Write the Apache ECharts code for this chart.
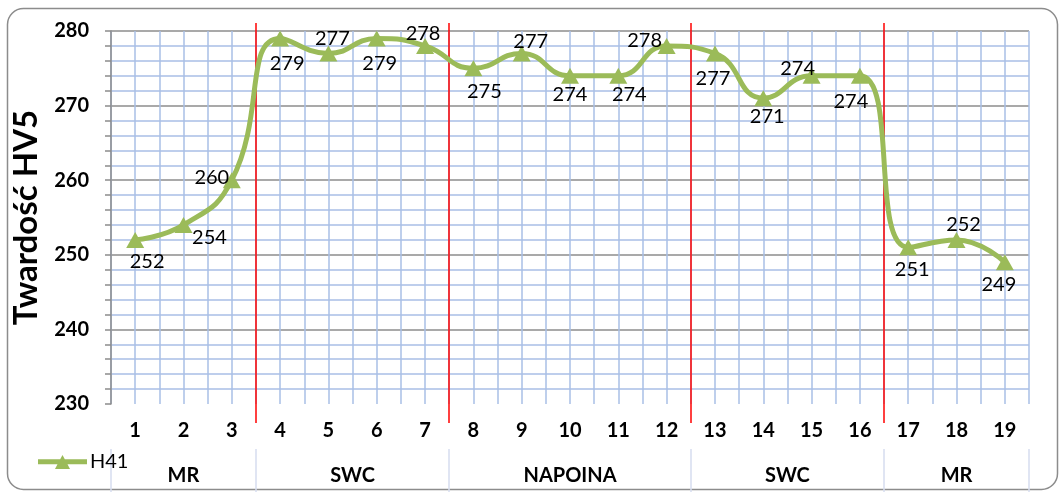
<!DOCTYPE html>
<html>
<head>
<meta charset="utf-8">
<script src="https://cdn.jsdelivr.net/npm/echarts@6/dist/echarts.min.js"></script>
<style>
html,body{margin:0;padding:0;background:#fff;}
#c{width:1063px;height:492px;}
</style>
</head>
<body>
<div id="c"></div>
<script>
// ---- data ----
const categories = ['1','2','3','4','5','6','7','8','9','10','11','12','13','14','15','16','17','18','19'];
const seriesName = 'H41';
const values = [252,254,260,279,277,279,278,275,277,274,274,278,277,271,274,274,251,252,249];
const groupNames = ['MR','SWC','NAPOINA','SWC','MR'];
const groupSizes = [3,4,5,4,3];
const yTicks = [230,240,250,260,270,280];
const yAxisTitle = 'Twardość HV5';

// label placement (style only): [dx, dy] offset of label centre from point
const labelOffsets = [[12,22],[26,13],[-20,-3],[7,25],[4,-15],[3,25],[-2,-12],[11,23],[9,-12],[0,19],[11,19],[-22,-5],[-2,25],[4,18],[-14,-7],[-9,26],[4,22],[7,-15],[-6,22]];

// group boundaries (in category units)
const bounds = [0];
groupSizes.forEach(s => bounds.push(bounds[bounds.length-1] + s));
const innerBounds = bounds.slice(1, -1);
// half-step category axis for group labels
const nHalf = categories.length * 2 + 1;
const halfCats = Array.from({length: nHalf}, (_, i) => String(i));
const groupLabelAt = {};
for (let g = 0; g < groupNames.length; g++) {
  groupLabelAt[bounds[g] + bounds[g+1]] = groupNames[g]; // index in half units
}
const boundaryIdx = new Set(bounds.map(b => b * 2));

const FONT = 'Lato';
const LEGEND_ICON = 'path://M0,4.3 L22.2,4.3 L24.5,0 L26.8,4.3 L49,4.3 L49,9.3 L29.5,9.3 L32,14 L17,14 L19.5,9.3 L0,9.3 Z';
const chart = echarts.init(document.getElementById('c'));

const option = {
  backgroundColor: '#fff',
  animation: false,
  textStyle: {fontFamily: FONT},
  graphic: [{
    type: 'rect', silent: true,
    shape: {x: 7.5, y: 8.5, width: 1050, height: 481, r: 16},
    style: {fill: 'none', stroke: '#8c8c8c', lineWidth: 1.5}
  }],
  legend: {
    left: 33, top: 447,
    itemWidth: 49, itemHeight: 14, itemGap: 4,
    textStyle: {fontFamily: FONT, fontSize: 20, color: '#000', padding: [0, 0, 0, -2]},
    data: [{name: seriesName, icon: LEGEND_ICON}]
  },
  grid: [
    {left: 111, right: 34, top: 31, bottom: 88},
    {left: 111, right: 34, top: 23, bottom: 69}
  ],
  xAxis: [
    { // main category axis (numbers)
      type: 'category', gridIndex: 0, data: categories, boundaryGap: true,
      axisLine: {show: false}, axisTick: {show: false}, splitLine: {show: false},
      axisLabel: {interval: 0, margin: 17, fontFamily: FONT, fontWeight: 'bold', fontSize: 20, color: '#000'}
    },
    { // value overlay for vertical half-step grid lines
      type: 'value', gridIndex: 0, min: 0, max: categories.length, interval: 0.5,
      axisLine: {show: false}, axisTick: {show: false}, axisLabel: {show: false},
      splitLine: {show: true, lineStyle: {color: '#a9bfe6', width: 1.5}}
    },
    { // group labels
      type: 'category', gridIndex: 0, data: halfCats, boundaryGap: false,
      position: 'bottom', offset: 45,
      axisLine: {show: false},
      axisTick: {show: true, length: 45, interval: (idx) => boundaryIdx.has(idx), lineStyle: {color: '#d6ddef', width: 1.5}},
      axisLabel: {interval: 0, margin: 17, fontFamily: FONT, fontWeight: 'bold', fontSize: 20, color: '#000',
        formatter: (v, idx) => groupLabelAt[idx] || ''},
      splitLine: {show: false}
    },
    { // value axis for separator lines
      type: 'value', gridIndex: 1, min: 0, max: categories.length, show: false
    }
  ],
  yAxis: [
    {
      type: 'value', gridIndex: 0, min: yTicks[0], max: yTicks[yTicks.length-1], interval: 10,
      name: yAxisTitle, nameLocation: 'middle', nameGap: 64, nameRotate: 90,
      nameTextStyle: {fontFamily: FONT, fontWeight: 'bold', fontSize: 33, color: '#000'},
      axisLine: {show: true, lineStyle: {color: '#8c8c8c', width: 1.5}},
      axisTick: {show: true, length: 6, lineStyle: {color: '#8c8c8c', width: 1.5}},
      minorTick: {show: true, splitNumber: 5, length: 6, lineStyle: {color: '#8c8c8c', width: 1.5}},
      axisLabel: {margin: 22, fontFamily: FONT, fontWeight: 'bold', fontSize: 20, color: '#000'},
      splitLine: {show: true, lineStyle: {color: ['rgba(0,0,0,0)', '#8c8c8c', '#8c8c8c', '#8c8c8c', '#8c8c8c', '#8c8c8c'], width: 1.5}},
      minorSplitLine: {show: true, lineStyle: {color: '#a9bfe6', width: 1.5}}
    },
    {type: 'value', gridIndex: 1, min: 0, max: 1, show: false}
  ],
  series: [
    {
      name: seriesName, type: 'line', xAxisIndex: 0, yAxisIndex: 0,
      data: values.map((v, i) => ({
        value: v,
        label: {position: 'inside', offset: labelOffsets[i]}
      })),
      smooth: 0.5,
      symbol: 'triangle', symbolSize: [18, 16],
      lineStyle: {color: '#9bbb59', width: 5},
      itemStyle: {color: '#9bbb59'},
      label: {show: true, fontFamily: FONT, fontSize: 20, color: '#000'},
      z: 5
    },
    {
      name: 'sep', type: 'scatter', xAxisIndex: 3, yAxisIndex: 1, data: [],
      silent: true, z: 1,
      markLine: {
        silent: true, symbol: ['none','none'], label: {show: false},
        lineStyle: {color: '#ff0000', width: 1.5, type: 'solid'},
        emphasis: {disabled: true},
        data: innerBounds.map(b => ({xAxis: b}))
      }
    }
  ]
};
chart.setOption(option);
</script>
</body>
</html>
